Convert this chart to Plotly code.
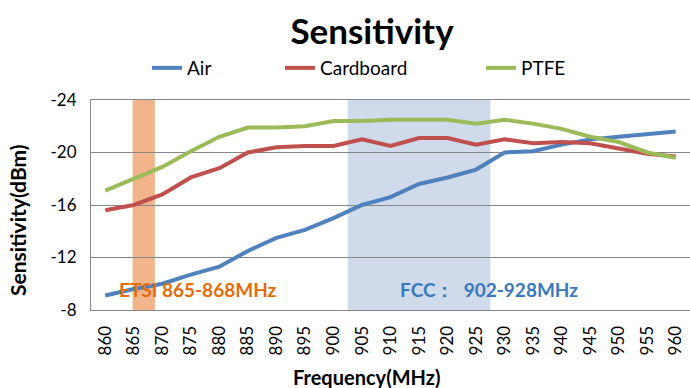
import plotly.graph_objects as go

freq = [860, 865, 870, 875, 880, 885, 890, 895, 900, 905, 910, 915, 920, 925, 930, 935, 940, 945, 950, 955, 960]
air = [-9.1, -9.6, -10.0, -10.7, -11.3, -12.5, -13.5, -14.1, -15.0, -16.0, -16.6, -17.6, -18.1, -18.7, -20.0, -20.1, -20.6, -21.0, -21.2, -21.4, -21.6]
cardboard = [-15.6, -16.0, -16.8, -18.1, -18.8, -20.0, -20.4, -20.5, -20.5, -21.0, -20.5, -21.1, -21.1, -20.6, -21.0, -20.7, -20.8, -20.7, -20.3, -19.9, -19.7]
ptfe = [-17.1, -18.0, -18.9, -20.1, -21.2, -21.9, -21.9, -22.0, -22.4, -22.4, -22.5, -22.5, -22.5, -22.2, -22.5, -22.2, -21.8, -21.2, -20.8, -20.0, -19.6]

series = [("Air", air, "#4F81BD"), ("Cardboard", cardboard, "#C0504D"), ("PTFE", ptfe, "#9BBB59")]
legend_x = [152, 285, 486]

W, H = 690, 388
L, R, T, B = 91, 0, 100, 78
PW, PH = W - L - R, H - T - B

FONT = "Lato"
fig = go.Figure()
for i, (name, vals, col) in enumerate(series):
    lg = "legend" if i == 0 else f"legend{i+1}"
    fig.add_trace(go.Scatter(x=freq, y=vals, mode="lines", name=name, showlegend=True,
                             line=dict(color=col, width=4), legend=lg))

leg_common = dict(orientation="h", xref="container", yref="container",
                  yanchor="middle", font=dict(family=FONT, size=19, color="#000"),
                  bgcolor="rgba(0,0,0,0)")
fig.update_layout(
    showlegend=True,
    legend=dict(x=(legend_x[0] - 5) / W, y=1 - 68 / H, **leg_common),
    legend2=dict(x=(legend_x[1] - 5) / W, y=1 - 68 / H, **leg_common),
    legend3=dict(x=(legend_x[2] - 5) / W, y=1 - 68 / H, **leg_common),
)

# shaded bands
fig.add_shape(type="rect", xref="x", yref="paper", x0=864.8, x1=868.7, y0=0, y1=1,
              fillcolor="#F2B48A", line_width=0, layer="below")
fig.add_shape(type="rect", xref="x", yref="paper", x0=902.5, x1=927.5, y0=0, y1=1,
              fillcolor="#CFDBEB", line_width=0, layer="below")

fig.add_annotation(x=876.3, y=-9.6, text="<b>ETSI 865-868MHz</b>", showarrow=False,
                   font=dict(family=FONT, size=19, color="#E46C0A"))
fig.add_annotation(x=927.3, y=-9.6, text="<b>FCC：  902-928MHz</b>", showarrow=False,
                   font=dict(family=FONT, size=19, color="#3A78C0"))

# axis titles
fig.add_annotation(xref="paper", yref="paper", x=(366 - L) / PW, y=(H - B - 377) / PH,
                   text="<b>Frequency(MHz)</b>", showarrow=False, yanchor="middle",
                   font=dict(family=FONT, size=20, color="#000"))
fig.add_annotation(xref="paper", yref="paper", x=(17 - L) / PW, y=(H - B - 220) / PH,
                   text="<b>Sensitivity(dBm)</b>", showarrow=False, textangle=-90,
                   xanchor="center", yanchor="middle",
                   font=dict(family=FONT, size=21, color="#000"))

fig.update_layout(
    width=W, height=H,
    margin=dict(l=L, r=R, t=T, b=B),
    paper_bgcolor="white", plot_bgcolor="white",
    title=dict(text="<b>Sensitivity</b>", x=372 / W, xanchor="center",
               y=1 - 32 / H, yanchor="middle",
               font=dict(family=FONT, size=35, color="#000")),
    xaxis=dict(range=[857.5, 962.5], tickvals=freq, ticktext=[str(f) for f in freq],
               tickangle=-90, tickfont=dict(family=FONT, size=17, color="#000"),
               showgrid=False, zeroline=False, showline=True, linecolor="#868686",
               mirror=True, linewidth=1, ticks="outside", ticklen=8, tickcolor="rgba(0,0,0,0)",
               automargin=False),
    yaxis=dict(range=[-8, -24], tickvals=[-8, -12, -16, -20, -24],
               ticktext=["-8", "-12", "-16", "-20", "-24"],
               tickfont=dict(family=FONT, size=17, color="#000"),
               showgrid=True, gridcolor="#868686", gridwidth=1, zeroline=False,
               showline=True, linecolor="#868686", mirror=True,
               ticks="outside", ticklen=10, tickcolor="rgba(0,0,0,0)",
               automargin=False),
)

fig.write_html("out.html", config={"displayModeBar": False},
               post_script="document.body.style.margin='0';document.body.style.overflow='hidden';")
